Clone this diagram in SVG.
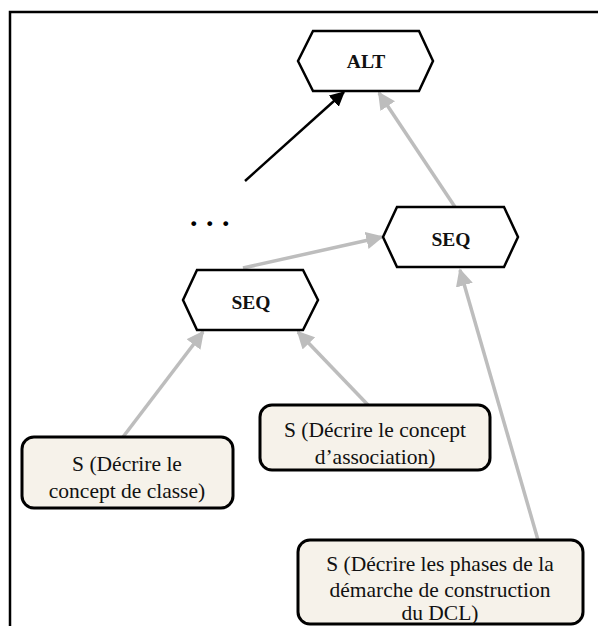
<svg xmlns="http://www.w3.org/2000/svg" width="598" height="626" viewBox="0 0 598 626">
<style>
.hex{fill:#fff;stroke:#000;stroke-width:2.5}
.hl{font-family:"Liberation Serif",serif;font-weight:bold;font-size:19.5px;text-anchor:middle;fill:#111}
.box{fill:#f6f2ea;stroke:#000;stroke-width:3}
.bt{font-family:"Liberation Serif",serif;font-size:21.5px;text-anchor:middle;fill:#111}
.g{stroke:#bdbdbd;stroke-width:3.5;fill:none;marker-end:url(#ga)}
.k{stroke:#000;stroke-width:2.5;fill:none;marker-end:url(#ka)}
</style>
<defs>
<marker id="ga" markerWidth="5" markerHeight="5" refX="4.5" refY="2.5" orient="auto" markerUnits="strokeWidth"><path d="M0,0 L5,2.5 L0,5 Z" fill="#bdbdbd"/></marker>
<marker id="ka" markerWidth="6" markerHeight="6" refX="5.5" refY="3" orient="auto" markerUnits="strokeWidth"><path d="M0,0 L6,3 L0,6 Z" fill="#000"/></marker>
</defs>
<path d="M10,626 L10,12 L598,12" fill="none" stroke="#000" stroke-width="2.5"/>
<g id="connectors">
<line class="k" x1="245" y1="181" x2="344" y2="92"/>
<line class="g" x1="455" y1="207" x2="379" y2="93"/>
<line class="g" x1="243" y1="268" x2="382" y2="237"/>
<line class="g" x1="123" y1="437" x2="203" y2="332"/>
<line class="g" x1="368" y1="405" x2="298" y2="332"/>
<line class="g" x1="538" y1="540" x2="460" y2="270"/>
</g>
<g id="alt">
<polygon class="hex" points="298,61 313,31 419,31 433,61 419,91 313,91"/>
<text class="hl" x="366" y="68">ALT</text>
</g>
<g id="dots">
<text x="190" y="226" font-family="Liberation Serif,serif" font-weight="bold" font-size="30" letter-spacing="8.5" fill="#000">...</text>
</g>
<g id="seq2">
<polygon class="hex" points="383,237 397,207 504,207 518,237 504,267 397,267"/>
<text class="hl" x="451" y="246">SEQ</text>
</g>
<g id="seq1">
<polygon class="hex" points="183,300 197,270 303,270 318,300 303,330 197,330"/>
<text class="hl" x="251" y="309">SEQ</text>
</g>
<g id="s1">
<rect class="box" x="22" y="437" width="211" height="71" rx="12"/>
<text class="bt" x="127" y="471">S (Décrire le</text>
<text class="bt" x="127" y="498">concept de classe)</text>
</g>
<g id="s2">
<rect class="box" x="260" y="405" width="230" height="65" rx="12"/>
<text class="bt" x="375" y="437">S (Décrire le concept</text>
<text class="bt" x="375" y="464">d’association)</text>
</g>
<g id="s3">
<rect class="box" x="298" y="540" width="285" height="84" rx="12"/>
<text class="bt" x="440" y="571">S (Décrire les phases de la</text>
<text class="bt" x="440" y="597">démarche de construction</text>
<text class="bt" x="440" y="620">du DCL)</text>
</g>
</svg>
